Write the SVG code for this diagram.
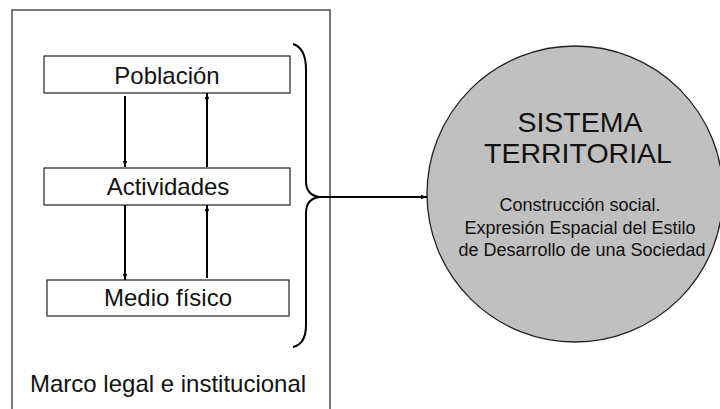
<svg xmlns="http://www.w3.org/2000/svg" width="720" height="409" viewBox="0 0 720 409">
<defs>
<marker id="ah" markerUnits="userSpaceOnUse" markerWidth="6" markerHeight="6" viewBox="0 0 6 6" refX="6" refY="3" orient="auto">
<path d="M0,0.8 L6,3 L0,5.2 Z" fill="#000"/>
</marker>
<style>
.box{fill:#fff;stroke:#222;stroke-width:1.2}
.lbl{font-family:"Liberation Sans",Arial,sans-serif;font-size:24px;fill:#111;text-anchor:middle}
.conn{fill:none;stroke:#000;stroke-width:2}
.big{font-family:"Liberation Sans",Arial,sans-serif;font-size:28.5px;fill:#111;text-anchor:middle}
.sm{font-family:"Liberation Sans",Arial,sans-serif;font-size:18px;fill:#111;text-anchor:middle}
</style>
</defs>
<rect width="720" height="409" fill="#fff"/>
<g id="marco">
<rect x="12" y="10" width="318" height="410" fill="none" stroke="#333" stroke-width="1.3"/>
<text x="30" y="392" font-family="&quot;Liberation Sans&quot;,Arial,sans-serif" font-size="24" fill="#111">Marco legal e institucional</text>
</g>
<g id="poblacion">
<rect class="box" x="44" y="56" width="246" height="37"/>
<text class="lbl" x="167" y="84">Población</text>
</g>
<g id="actividades">
<rect class="box" x="44" y="168" width="246" height="37"/>
<text class="lbl" x="168" y="195">Actividades</text>
</g>
<g id="medio">
<rect class="box" x="47" y="280" width="242" height="36"/>
<text class="lbl" x="168" y="306">Medio físico</text>
</g>
<g id="sistema">
<circle cx="575" cy="194" r="148" fill="#c0c0c0" stroke="#222" stroke-width="1.3"/>
<text class="big" x="580" y="132">SISTEMA</text>
<text class="big" x="578" y="163">TERRITORIAL</text>
<text class="sm" x="580" y="211">Construcción social.</text>
<text class="sm" x="580" y="234">Expresión Espacial del Estilo</text>
<text class="sm" x="582" y="256">de Desarrollo de una Sociedad</text>
</g>
<g id="connectors">
<line class="conn" x1="125" y1="96" x2="125" y2="167" marker-end="url(#ah)"/>
<line class="conn" x1="207" y1="167" x2="207" y2="93" marker-end="url(#ah)"/>
<line class="conn" x1="125" y1="205" x2="125" y2="280" marker-end="url(#ah)"/>
<line class="conn" x1="207" y1="278" x2="207" y2="205" marker-end="url(#ah)"/>
<path class="conn" stroke-width="2.5" d="M293,44 Q306,48 306,70 L306,181 Q306,195 319,197 Q306,199 306,213 L306,325 Q306,344 293,347"/>
<line class="conn" x1="318" y1="197" x2="427" y2="197" marker-end="url(#ah)"/>
</g>
</svg>
